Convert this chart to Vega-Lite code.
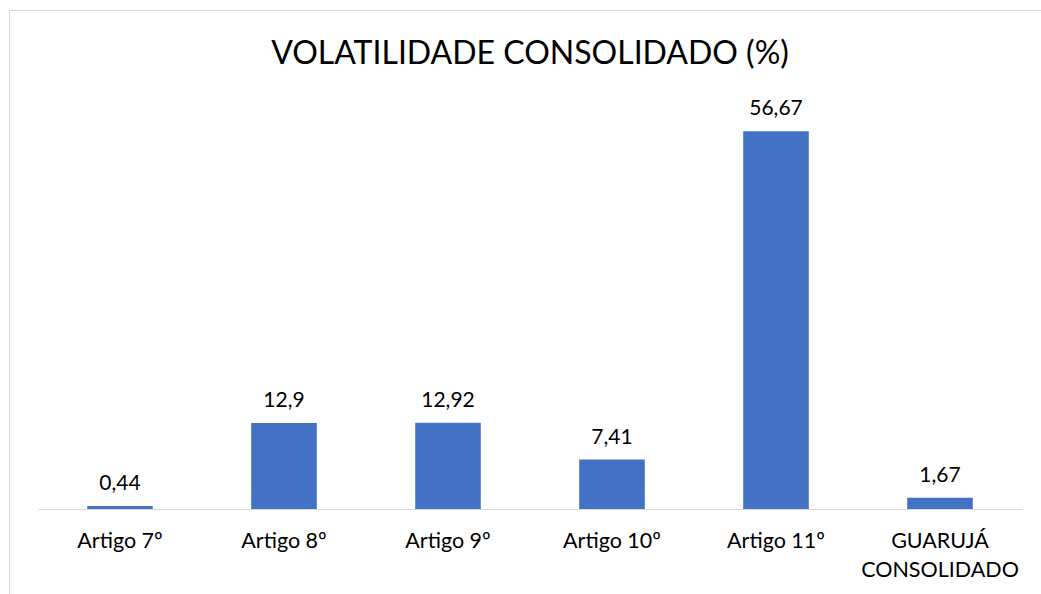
{
  "$schema": "https://vega.github.io/schema/vega-lite/v6.json",
  "autosize": "none",
  "padding": {"left": 9, "top": 10, "right": 0, "bottom": 0},
  "width": 1042,
  "height": 620,
  "background": "white",
  "config": {
    "view": {"stroke": "#D9D9D9", "strokeWidth": 1},
    "font": "Lato",
    "locale": {"number": {"decimal": ",", "thousands": ".", "grouping": [3], "currency": ["R$", ""]}}
  },
  "title": {
    "text": "VOLATILIDADE CONSOLIDADO (%)",
    "fontSize": 32,
    "fontWeight": "normal",
    "color": "#000000",
    "anchor": "middle",
    "baseline": "alphabetic",
    "offset": -54,
    "dy": 32
  },
  "data": {
    "values": [
      {"categoria": "Artigo 7º", "volatilidade": 0.44},
      {"categoria": "Artigo 8º", "volatilidade": 12.9},
      {"categoria": "Artigo 9º", "volatilidade": 12.92},
      {"categoria": "Artigo 10º", "volatilidade": 7.41},
      {"categoria": "Artigo 11º", "volatilidade": 56.67},
      {"categoria": "GUARUJÁ CONSOLIDADO", "volatilidade": 1.67}
    ]
  },
  "encoding": {
    "x": {
      "field": "categoria",
      "type": "nominal",
      "sort": null,
      "scale": {"range": [29, 1013], "paddingInner": 0.6, "paddingOuter": 0.3},
      "axis": {
        "title": null,
        "orient": "bottom",
        "offset": -121,
        "domainColor": "#D9D9D9",
        "domainWidth": 1,
        "ticks": false,
        "grid": false,
        "labelAngle": 0,
        "labelFontSize": 21.5,
        "labelColor": "#000000",
        "labelPadding": 21,
        "labelLineHeight": 29,
        "labelBaseline": "top",
        "labelExpr": "datum.value == 'GUARUJÁ CONSOLIDADO' ? ['GUARUJÁ', 'CONSOLIDADO'] : datum.label"
      }
    },
    "y": {
      "field": "volatilidade",
      "type": "quantitative",
      "scale": {"domain": [0, 60], "range": [499, 99], "nice": false, "zero": true},
      "axis": null
    }
  },
  "layer": [
    {"mark": {"type": "bar", "color": "#4472C4"}},
    {
      "mark": {"type": "text", "fontSize": 21, "color": "#000000", "baseline": "alphabetic", "dy": -16},
      "encoding": {"text": {"field": "volatilidade", "type": "quantitative", "format": ".2~f"}}
    }
  ]
}
